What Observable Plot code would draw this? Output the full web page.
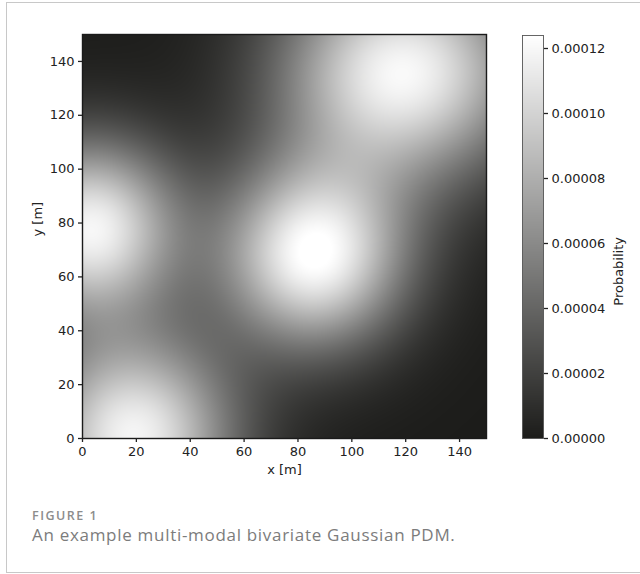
<!DOCTYPE html>
<html><head><meta charset="utf-8">
<script src="https://cdn.jsdelivr.net/npm/d3@7"></script>
<script src="https://cdn.jsdelivr.net/npm/@observablehq/plot@0.6"></script>
<style>
html,body{margin:0;padding:0;background:#fff;}
#wrap{position:relative;width:640px;height:574px;overflow:hidden;background:#fff;}
#frame{position:absolute;left:6px;top:2px;width:700px;height:571px;border:1.5px solid #c8c8c8;box-sizing:border-box;}
#main{position:absolute;left:0;top:0;}
#cbar{position:absolute;left:490px;top:0;}
#caption{position:absolute;left:0;top:0;}
</style></head>
<body>
<div id="wrap">
  <div id="frame"></div>
  <div id="main"></div>
  <div id="cbar"></div>
  <svg id="caption" width="640" height="574">
    <text x="32" y="520" font-family="Open Sans" font-weight="600" font-size="12.5" letter-spacing="1.5" fill="#8c8c8c">FIGURE 1</text>
    <text x="32" y="541" font-family="Open Sans" font-size="17" letter-spacing="0.7" fill="#7c7c7c">An example multi-modal bivariate Gaussian PDM.</text>
  </svg>
</div>
<script>
// Gaussian mode parameters
const centersX = [86, 119, 3, 19];
const centersY = [68, 136, 78, 1];
const spreadX  = [24, 32, 23, 26];
const spreadY  = [24, 28, 23, 26];
const peaks    = [0.0001235, 0.000120, 0.000118, 0.000118];

const xTicks = [0, 20, 40, 60, 80, 100, 120, 140];
const yTicks = [0, 20, 40, 60, 80, 100, 120, 140];
const cbarTicks = [0, 0.00002, 0.00004, 0.00006, 0.00008, 0.00010, 0.00012];
const cbarMax = 0.000124;
const extent = [0, 150];

function density(x, y) {
  let s = 0;
  for (let i = 0; i < peaks.length; i++) {
    const dx = (x - centersX[i]) / spreadX[i];
    const dy = (y - centersY[i]) / spreadY[i];
    s += peaks[i] * Math.exp(-0.5 * (dx * dx + dy * dy));
  }
  return s;
}

const colorScale = {type: "linear", domain: [0, cbarMax], range: ["#1c1c1a", "#ffffff"], clamp: true};
const ink = "#222";

const main = Plot.plot({
  width: 500, height: 490,
  marginLeft: 82, marginRight: 14, marginTop: 34, marginBottom: 52,
  style: {fontFamily: "DejaVu Sans", fontSize: "13px", color: ink, background: "transparent"},
  x: {domain: extent},
  y: {domain: extent},
  color: colorScale,
  marks: [
    Plot.raster({fill: density, x1: 0, x2: 150, y1: 0, y2: 150}),
    Plot.frame({stroke: "#1a1a1a", strokeWidth: 1.4}),
    Plot.axisX({ticks: xTicks, tickSize: 4, tickPadding: 4, label: null, fontSize: 13, strokeWidth: 1.3}),
    Plot.axisY({ticks: yTicks, tickSize: 4, tickPadding: 4, label: null, fontSize: 13, strokeWidth: 1.3}),
    Plot.text(["x [m]"], {frameAnchor: "bottom", dy: 35, fontSize: 13, fill: ink}),
    Plot.text(["y [m]"], {frameAnchor: "left", dx: -45, rotate: -90, fontSize: 13, fill: ink})
  ]
});
document.getElementById("main").appendChild(main);

const cbar = Plot.plot({
  width: 150, height: 490,
  marginLeft: 32, marginRight: 97, marginTop: 35, marginBottom: 52,
  style: {fontFamily: "DejaVu Sans", fontSize: "13px", color: ink, background: "transparent"},
  x: {domain: [0, 1], axis: null},
  y: {domain: [0, cbarMax], axis: null},
  color: colorScale,
  marks: [
    Plot.raster({fill: (x, y) => y, x1: 0, x2: 1, y1: 0, y2: cbarMax}),
    Plot.frame({stroke: "#555", strokeWidth: 0.9}),
    Plot.axisY({anchor: "right", ticks: cbarTicks, tickFormat: d3.format(".5f"), tickSize: 4, tickPadding: 4, label: null, fontSize: 13, strokeWidth: 1.3}),
    Plot.text(["Probability"], {frameAnchor: "right", dx: 75, rotate: -90, fontSize: 13, fill: ink})
  ]
});
document.getElementById("cbar").appendChild(cbar);
</script>
</body></html>
